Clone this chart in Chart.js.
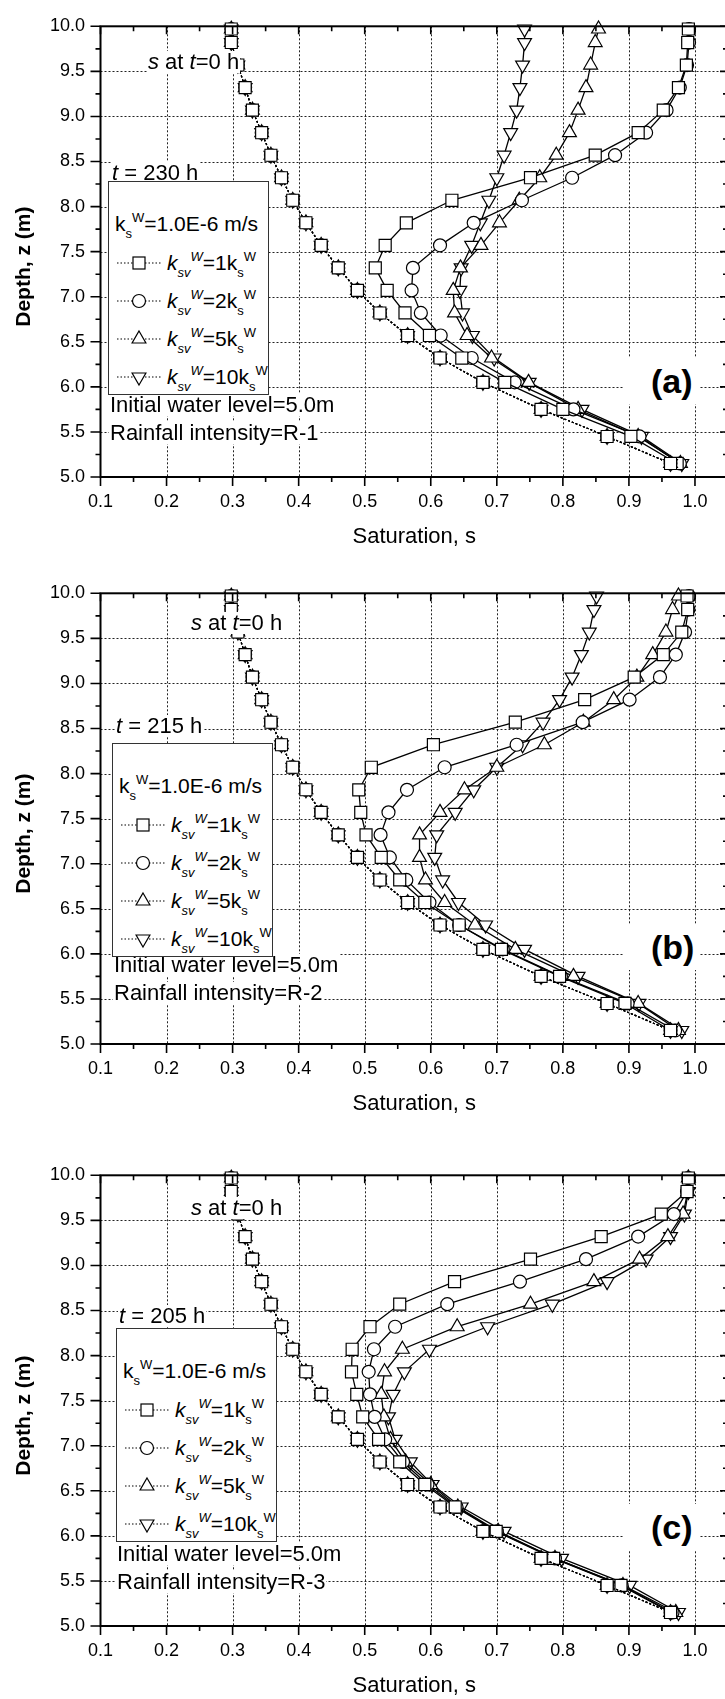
<!DOCTYPE html>
<html>
<head>
<meta charset="utf-8">
<title>Saturation profiles</title>
<script src="https://cdn.jsdelivr.net/npm/chart.js@4.4.1/dist/chart.umd.min.js"></script>
<style>
html, body { margin: 0; padding: 0; background: #fff; }
body { width: 725px; height: 1699px; overflow: hidden; position: relative;
       font-family: "Liberation Sans", Arial, sans-serif; color: #000; }
.panel { position: absolute; left: 0; width: 760px; height: 554px; }
.panel canvas { position: absolute; left: 0; top: 0; }
.txt { position: absolute; white-space: nowrap; background: #fff; font-size: 22px; line-height: 22px; padding: 0 1px; }
.tag { position: absolute; white-space: nowrap; background: #fff; font-weight: bold; font-size: 34px;
       line-height: 34px; transform: translateY(-50%); padding: 6px 6px 6px 27px; }
.sb { font-size: 13px; position: relative; top: 7px; }
.sp { font-size: 13px; position: relative; top: -9px; }
.legend { position: absolute; width: 161px; height: 214px; border: 1px solid #333; background: #fff; box-sizing: border-box; }
.legend .row { position: absolute; white-space: nowrap; font-size: 21px; line-height: 22px; }
.legend svg { position: absolute; }
</style>
</head>
<body>
<div id="root"></div>
<script>
// Depth of the computation nodes (m)
const depthLevels = [9.97, 9.82, 9.57, 9.32, 9.07, 8.82, 8.57, 8.32, 8.07, 7.82,
                     7.57, 7.32, 7.07, 6.82, 6.57, 6.32, 6.05, 5.75, 5.45, 5.15];

// Saturation at t = 0 h (same starting profile for every case)
const initialSat = [0.298, 0.298, 0.308, 0.319, 0.330, 0.344, 0.358, 0.374, 0.391, 0.411,
                    0.434, 0.460, 0.489, 0.523, 0.565, 0.614, 0.679, 0.767, 0.867, 0.963];

// (a) Rainfall R-1, t = 230 h
const satA_1k  = [0.990, 0.989, 0.987, 0.975, 0.952, 0.914, 0.849, 0.751, 0.632, 0.563,
                  0.531, 0.516, 0.534, 0.561, 0.598, 0.647, 0.712, 0.800, 0.903, 0.973];
const satA_2k  = [0.991, 0.991, 0.988, 0.977, 0.957, 0.926, 0.879, 0.814, 0.738, 0.665,
                  0.614, 0.573, 0.571, 0.585, 0.615, 0.662, 0.727, 0.816, 0.916, 0.977];
const satA_5k  = [0.854, 0.849, 0.842, 0.835, 0.823, 0.810, 0.790, 0.765, 0.734, 0.704,
                  0.676, 0.645, 0.634, 0.636, 0.655, 0.692, 0.748, 0.823, 0.914, 0.978];
const satA_10k = [0.742, 0.742, 0.739, 0.735, 0.730, 0.721, 0.711, 0.700, 0.688, 0.675,
                  0.662, 0.646, 0.644, 0.648, 0.663, 0.696, 0.749, 0.829, 0.919, 0.980];

// (b) Rainfall R-2, t = 215 h
const satB_1k  = [0.988, 0.989, 0.980, 0.952, 0.908, 0.833, 0.728, 0.604, 0.510, 0.491,
                  0.494, 0.502, 0.525, 0.553, 0.591, 0.643, 0.707, 0.795, 0.894, 0.963];
const satB_2k  = [0.991, 0.990, 0.985, 0.971, 0.947, 0.901, 0.830, 0.730, 0.621, 0.564,
                  0.536, 0.524, 0.538, 0.563, 0.598, 0.643, 0.709, 0.797, 0.898, 0.970];
const satB_5k  = [0.975, 0.966, 0.956, 0.936, 0.912, 0.877, 0.831, 0.772, 0.700, 0.651,
                  0.614, 0.583, 0.583, 0.592, 0.621, 0.667, 0.728, 0.816, 0.914, 0.975];
const satB_10k = [0.851, 0.847, 0.840, 0.828, 0.814, 0.795, 0.770, 0.739, 0.700, 0.665,
                  0.637, 0.609, 0.606, 0.618, 0.642, 0.683, 0.742, 0.823, 0.915, 0.980];

// (c) Rainfall R-3, t = 205 h
const satC_1k  = [0.990, 0.988, 0.949, 0.858, 0.751, 0.636, 0.553, 0.508, 0.481, 0.480,
                  0.488, 0.497, 0.521, 0.553, 0.591, 0.637, 0.699, 0.786, 0.888, 0.963];
const satC_2k  = [0.990, 0.988, 0.968, 0.914, 0.835, 0.735, 0.625, 0.546, 0.514, 0.506,
                  0.508, 0.515, 0.531, 0.558, 0.595, 0.639, 0.700, 0.788, 0.889, 0.966];
const satC_5k  = [0.990, 0.989, 0.982, 0.959, 0.916, 0.847, 0.751, 0.640, 0.557, 0.530,
                  0.525, 0.529, 0.539, 0.562, 0.600, 0.641, 0.702, 0.788, 0.891, 0.971];
const satC_10k = [0.990, 0.990, 0.984, 0.963, 0.926, 0.867, 0.784, 0.686, 0.598, 0.560,
                  0.543, 0.536, 0.546, 0.569, 0.602, 0.646, 0.711, 0.798, 0.901, 0.975];

// Tick values
const xTicks = [0.1, 0.2, 0.3, 0.4, 0.5, 0.6, 0.7, 0.8, 0.9, 1.0];
const yTicks = [5.0, 5.5, 6.0, 6.5, 7.0, 7.5, 8.0, 8.5, 9.0, 9.5, 10.0];

// Labels
const ratioLabels = ['1', '2', '5', '10'];
const timeLabels  = ['230', '215', '205'];
const rainLabels  = ['R-1', 'R-2', 'R-3'];
const panelTags   = ['(a)', '(b)', '(c)'];
const xTitle = 'Saturation, s';
const yTitle = 'Depth, z (m)';

// Axis ranges (the frame runs slightly past 1.0)
const X_MIN = 0.1, X_MAX = 1.05;
const Y_MIN = 5.0, Y_MAX = 10.0;

const panelSeries = [
  [satA_1k, satA_2k, satA_5k, satA_10k],
  [satB_1k, satB_2k, satB_5k, satB_10k],
  [satC_1k, satC_2k, satC_5k, satC_10k]
];

// Page layout of each panel and its annotations (px, relative to the panel box)
const layout = [
  { top: 0,    sNote: [147, 51], tNote: [111, 162], legend: [108, 181], init: [109, 394], rain: [109, 422], tag: [624, 381] },
  { top: 567,  sNote: [190, 45], tNote: [115, 148], legend: [112, 176], init: [113, 387], rain: [113, 415], tag: [624, 380] },
  { top: 1149, sNote: [190, 48], tNote: [118, 156], legend: [116, 179], init: [116, 394], rain: [116, 422], tag: [624, 378] }
];

const FONT = '"Liberation Sans", Arial, sans-serif';
const markers = [
  { style: 'rect',     radius: 8.5, rotation: 0 },
  { style: 'circle',   radius: 6.5, rotation: 0 },
  { style: 'triangle', radius: 8,   rotation: 0 },
  { style: 'triangle', radius: 8,   rotation: 180 }
];

// Frame, dotted grid, tick marks and the depth title, all placed with the chart's scales
const axesFrame = {
  id: 'axesFrame',
  beforeDatasetsDraw(chart) {
    const { ctx, scales: { x, y } } = chart;
    const l = x.getPixelForValue(X_MIN), r = x.getPixelForValue(X_MAX);
    const t = y.getPixelForValue(Y_MAX), b = y.getPixelForValue(Y_MIN);
    ctx.save();
    ctx.strokeStyle = '#222';
    ctx.lineWidth = 1;
    ctx.setLineDash([2, 2]);
    ctx.beginPath();
    xTicks.forEach(v => {
      if (v <= X_MIN + 1e-6) return;
      const p = Math.round(x.getPixelForValue(v)) + 0.5;
      ctx.moveTo(p, t); ctx.lineTo(p, b);
    });
    yTicks.forEach(v => {
      if (v <= Y_MIN + 1e-6 || v >= Y_MAX - 1e-6) return;
      const p = Math.round(y.getPixelForValue(v)) + 0.5;
      ctx.moveTo(l, p); ctx.lineTo(r, p);
    });
    ctx.stroke();
    ctx.restore();
  },
  afterDatasetsDraw(chart) {
    const { ctx, scales: { x, y } } = chart;
    const l = x.getPixelForValue(X_MIN), r = x.getPixelForValue(X_MAX);
    const t = y.getPixelForValue(Y_MAX), b = y.getPixelForValue(Y_MIN);
    const dx = (xTicks[1] - xTicks[0]) / 2, dy = (yTicks[1] - yTicks[0]) / 2;
    ctx.save();
    ctx.strokeStyle = '#000';
    ctx.lineWidth = 2;
    ctx.setLineDash([]);
    ctx.strokeRect(l, t, r - l, b - t);
    ctx.lineWidth = 1.6;
    ctx.beginPath();
    for (let i = 0; X_MIN + i * dx <= X_MAX + 1e-6; i++) {
      const p = x.getPixelForValue(X_MIN + i * dx);
      const major = i % 2 === 0;
      ctx.moveTo(p, b); ctx.lineTo(p, b + (major ? 9 : 5));
      ctx.moveTo(p, t); ctx.lineTo(p, t + (major ? 8 : 5));
    }
    for (let i = 0; Y_MIN + i * dy <= Y_MAX + 1e-6; i++) {
      const p = y.getPixelForValue(Y_MIN + i * dy);
      const major = i % 2 === 0;
      ctx.moveTo(l, p); ctx.lineTo(l - (major ? 10 : 5), p);
      ctx.moveTo(r, p); ctx.lineTo(r - (major ? 8 : 5), p);
    }
    ctx.stroke();

    // depth title, rotated along the left axis
    ctx.translate(24, (t + b) / 2 + 15);
    ctx.rotate(-Math.PI / 2);
    ctx.fillStyle = '#000';
    ctx.font = 'bold 21px ' + FONT;
    ctx.textAlign = 'center';
    ctx.textBaseline = 'middle';
    ctx.fillText(yTitle, 0, 0);
    ctx.restore();
  }
};

function points(sat) {
  return depthLevels.map((d, i) => ({ x: sat[i], y: d }));
}

function buildChart(idx, canvas) {
  const datasets = [];
  // t = 0 h profile, drawn with every marker on top of each other
  markers.forEach(m => datasets.push({
    data: points(initialSat),
    borderColor: '#000', borderWidth: 1.2, borderDash: [2, 2],
    pointStyle: m.style, pointRadius: m.radius, pointRotation: m.rotation,
    pointBackgroundColor: '#fff', pointBorderColor: '#000', pointBorderWidth: 1.1,
    tension: 0, clip: false
  }));
  panelSeries[idx].forEach((sat, k) => datasets.push({
    data: points(sat),
    borderColor: '#000', borderWidth: 1.3,
    pointStyle: markers[k].style, pointRadius: markers[k].radius, pointRotation: markers[k].rotation,
    pointBackgroundColor: '#fff', pointBorderColor: '#000', pointBorderWidth: 1.2,
    tension: 0, clip: false
  }));

  return new Chart(canvas, {
    type: 'line',
    data: { datasets },
    plugins: [axesFrame],
    options: {
      responsive: false,
      animation: false,
      events: [],
      layout: { padding: { top: 16, right: 32, bottom: 0, left: 0 } },
      plugins: { legend: { display: false }, tooltip: { enabled: false } },
      scales: {
        x: {
          type: 'linear', min: X_MIN, max: X_MAX,
          grid: { display: false, drawTicks: false }, border: { display: false },
          afterBuildTicks: s => { s.ticks = xTicks.map(v => ({ value: v })); },
          afterFit: s => { s.height = 77; },
          ticks: { padding: 14.5, color: '#000', maxRotation: 0, autoSkip: false,
                   font: { family: FONT, size: 18 }, callback: v => Number(v).toFixed(1) },
          title: { display: true, text: xTitle, color: '#000', padding: { top: 0, bottom: 4 },
                   font: { family: FONT, size: 22 } }
        },
        y: {
          type: 'linear', min: Y_MIN, max: Y_MAX,
          grid: { display: false, drawTicks: false }, border: { display: false },
          afterBuildTicks: s => { s.ticks = yTicks.map(v => ({ value: v })); },
          afterFit: s => { s.width = 100.5; },
          ticks: { padding: 15.5, color: '#000', autoSkip: false,
                   font: { family: FONT, size: 18 }, callback: v => Number(v).toFixed(1) },
          title: { display: false }
        }
      }
    }
  });
}

function legendSymbol(m) {
  const cx = 30, cy = 15;
  let shape;
  if (m.style === 'rect') shape = `<rect x="${cx - 6}" y="${cy - 6}" width="12" height="12"/>`;
  else if (m.style === 'circle') shape = `<circle cx="${cx}" cy="${cy}" r="6.5"/>`;
  else if (m.rotation === 0) shape = `<polygon points="${cx},${cy - 8} ${cx + 6.9},${cy + 4} ${cx - 6.9},${cy + 4}"/>`;
  else shape = `<polygon points="${cx},${cy + 8} ${cx + 6.9},${cy - 4} ${cx - 6.9},${cy - 4}"/>`;
  return `<svg width="60" height="30" viewBox="0 0 60 30" style="left:0;top:-15px">
    <line x1="8" y1="${cy}" x2="52" y2="${cy}" stroke="#000" stroke-width="1.2" stroke-dasharray="1.5 2"/>
    <g fill="#fff" stroke="#000" stroke-width="1.2">${shape}</g></svg>`;
}

const root = document.getElementById('root');
layout.forEach((L, idx) => {
  const panel = document.createElement('div');
  panel.className = 'panel';
  panel.style.top = L.top + 'px';
  const canvas = document.createElement('canvas');
  canvas.width = 760; canvas.height = 554;
  panel.appendChild(canvas);
  root.appendChild(panel);
  buildChart(idx, canvas);

  const add = (html, cls, pos) => {
    const el = document.createElement('div');
    el.className = cls;
    el.style.left = pos[0] + 'px';
    el.style.top = pos[1] + 'px';
    el.innerHTML = html;
    panel.appendChild(el);
    return el;
  };
  add('<i>s</i> at <i>t</i>=0 h', 'txt', L.sNote);
  add(`<i>t</i> = ${timeLabels[idx]} h`, 'txt', L.tNote);
  add('Initial water level=5.0m', 'txt', L.init);
  add(`Rainfall intensity=${rainLabels[idx]}`, 'txt', L.rain);
  add(panelTags[idx], 'tag', L.tag);

  const lg = add('', 'legend', L.legend);
  const rows = [`<div class="row" style="left:6px;top:31px">k<span class="sb">s</span><span class="sp">W</span>=1.0E-6 m/s</div>`];
  ratioLabels.forEach((r, k) => {
    const top = 81 + k * 38;
    rows.push(`<div class="row" style="left:0;top:${top}px">${legendSymbol(markers[k])}</div>`);
    rows.push(`<div class="row" style="left:58px;top:${top - 11}px"><i>k</i><i class="sb">sv</i><i class="sp">W</i>=${r}k<span class="sb">s</span><span class="sp">W</span></div>`);
  });
  lg.innerHTML = rows.join('');
});
</script>
</body>
</html>
